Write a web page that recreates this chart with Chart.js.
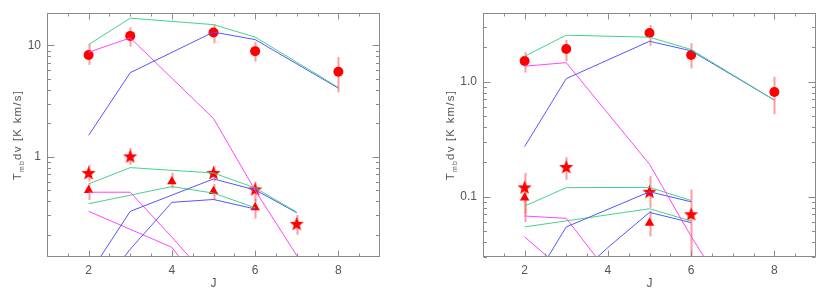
<!DOCTYPE html>
<html>
<head>
<meta charset="utf-8">
<script src="https://cdn.jsdelivr.net/npm/chart.js@4/dist/chart.umd.min.js"></script>
<style>
  body { margin: 0; background: #fff; }
  #wrap { position: relative; width: 831px; height: 295px; }
  canvas { position: absolute; top: 0; }
  #left { left: 0; }
  #right { left: 416px; }
</style>
</head>
<body>
<div id="wrap">
  <canvas id="left" width="415" height="295"></canvas>
  <canvas id="right" width="415" height="295"></canvas>
</div>
<script>
// ---- left panel data ----
const L_topJ = [2, 3, 5, 6, 8];
const L_topGreen = [10.2, 17.6, 15.4, 11.9, 4.2];
const L_topBlue = [1.56, 5.7, 13.2, 11.3, 4.14];
const L_topMagJ = [2, 3, 5, 6, 7, 8];
const L_topMag = [8.7, 11.7, 2.21, 0.5, 0.13, 0.03];

const L_starJ = [2, 3, 5, 6, 7];
const L_starGreen = [0.571, 0.8, 0.716, 0.526, 0.319];
const L_starBlue = [0.087, 0.324, 0.633, 0.505, 0.315];
const L_starMagJ = [2, 3, 4, 5];
const L_starMag = [0.481, 0.481, 0.19, 0.072];

const L_triGreenJ = [2, 4, 5, 6];
const L_triGreen = [0.379, 0.541, 0.472, 0.349];
const L_triBlueJ = [2, 3, 4, 5, 6];
const L_triBlue = [0.05, 0.148, 0.39, 0.414, 0.34];
const L_triMagJ = [2, 4, 5];
const L_triMag = [0.324, 0.154, 0.05];

const L_circJ = [2, 3, 5, 6, 8];
const L_circ = [8.2, 12.2, 13.1, 8.9, 5.8];
const L_circLo = [6.7, 9.8, 10.5, 7.2, 3.8];
const L_circHi = [10.3, 14.6, 15.5, 10.8, 7.9];
const L_obsStarJ = [2, 3, 5, 6, 7];
const L_obsStar = [0.71, 1.0, 0.71, 0.505, 0.248];
const L_obsStarLo = [0.6, 0.85, 0.6, 0.4, 0.2];
const L_obsStarHi = [0.85, 1.2, 0.83, 0.6, 0.3];
const L_obsTriJ = [2, 4, 5, 6];
const L_obsTri = [0.5, 0.6, 0.49, 0.35];
const L_obsTriLo = [0.41, 0.52, 0.41, 0.28];
const L_obsTriHi = [0.58, 0.72, 0.57, 0.42];

// ---- right panel data ----
const R_topJ = [2, 3, 5, 6, 8];
const R_topGreen = [1.66, 2.53, 2.43, 1.9, 0.69];
const R_topBlue = [0.272, 1.06, 2.24, 1.85, 0.69];
const R_topMagJ = [2, 3, 5, 6, 7];
const R_topMag = [1.36, 1.46, 0.191, 0.045, 0.012];

const R_starJ = [2, 3, 5, 6];
const R_starGreen = [0.0826, 0.1195, 0.12, 0.0924];
const R_starBlue = [0.0139, 0.0544, 0.11, 0.09];
const R_starMagJ = [2, 3, 4];
const R_starMag = [0.0677, 0.0646, 0.022];

const R_triGreenJ = [2, 5, 6];
const R_triGreen = [0.0544, 0.0783, 0.0613];
const R_triBlueJ = [3, 4, 5, 6];
const R_triBlue = [0.017, 0.036, 0.0728, 0.0593];
const R_triMagJ = [2, 3];
const R_triMag = [0.0446, 0.0217];

const R_circJ = [2, 3, 5, 6, 8];
const R_circ = [1.51, 1.92, 2.64, 1.7, 0.81];
const R_circLo = [1.2, 1.5, 2.05, 1.3, 0.52];
const R_circHi = [1.8, 2.3, 3.1, 2.15, 1.1];
const R_obsStarJ = [2, 3, 5, 6];
const R_obsStar = [0.119, 0.179, 0.109, 0.0695];
const R_obsStarLo = [0.06, 0.14, 0.08, 0.025];
const R_obsStarHi = [0.16, 0.22, 0.15, 0.115];
const R_obsTriJ = [2, 5];
const R_obsTri = [0.0975, 0.059];
const R_obsTriLo = [0.07, 0.045];
const R_obsTriHi = [0.12, 0.075];

const GREEN = 'rgb(70,210,140)';
const BLUE = 'rgb(85,85,255)';
const MAGENTA = 'rgb(255,70,255)';
const RED = 'rgb(255,0,0)';
const ERR = 'rgba(255,90,90,0.6)';
const FONT = '"Liberation Sans", Arial, sans-serif';

// filled five-point star used as point style
function makeStar(r) {
  const c = document.createElement('canvas');
  const s = Math.ceil(r * 2 + 2);
  c.width = s; c.height = s;
  const g = c.getContext('2d');
  g.fillStyle = RED;
  g.beginPath();
  for (let i = 0; i < 10; i++) {
    const rr = i % 2 ? r * 0.42 : r;
    const a = -Math.PI / 2 + i * Math.PI / 5;
    g.lineTo(s / 2 + rr * Math.cos(a), s / 2 + rr * Math.sin(a));
  }
  g.closePath();
  g.fill();
  return c;
}
const starImg = makeStar(7.5);

function pts(xs, ys) {
  return xs.map((x, i) => ({ x: x, y: ys[i] }));
}
function model(xs, ys, color) {
  return { data: pts(xs, ys), showLine: true, borderColor: color, borderWidth: 1,
           pointRadius: 0, tension: 0 };
}
function obs(xs, ys, style, r) {
  return { data: pts(xs, ys), showLine: false, pointStyle: style, pointRadius: r,
           backgroundColor: RED, borderColor: RED, borderWidth: 0 };
}

const frame = {
  id: 'frame',
  beforeDatasetsDraw(chart, args, o) {
    const ctx = chart.ctx, a = chart.chartArea;
    const xs = chart.scales.x, ys = chart.scales.y;
    ctx.save();
    ctx.beginPath();
    ctx.rect(a.left, a.top, a.right - a.left, a.bottom - a.top);
    ctx.clip();
    ctx.strokeStyle = ERR;
    ctx.lineWidth = 2;
    o.errors.forEach(e => {
      e.x.forEach((j, i) => {
        const px = Math.round(xs.getPixelForValue(j)) + 0.5;
        ctx.beginPath();
        ctx.moveTo(px, ys.getPixelForValue(e.lo[i]));
        ctx.lineTo(px, ys.getPixelForValue(e.hi[i]));
        ctx.stroke();
      });
    });
    ctx.restore();
  },
  afterDraw(chart, args, o) {
    const ctx = chart.ctx, a = chart.chartArea;
    const xs = chart.scales.x, ys = chart.scales.y;
    ctx.save();
    ctx.strokeStyle = '#8a8a8a';
    ctx.lineWidth = 1;
    const L = Math.round(a.left) + 0.5, R = Math.round(a.right) - 0.5;
    const T = Math.round(a.top) + 0.5, B = Math.round(a.bottom) - 0.5;
    ctx.strokeRect(L, T, R - L, B - T);
    ctx.beginPath();
    // x ticks every 0.5, longer at labelled values
    for (let j = 1.5; j < 9; j += 0.5) {
      const px = Math.round(xs.getPixelForValue(j)) + 0.5;
      const len = (j % 2 === 0) ? 6 : 3;
      ctx.moveTo(px, B); ctx.lineTo(px, B - len);
      ctx.moveTo(px, T); ctx.lineTo(px, T + len);
    }
    // y ticks: decades long, 2..9 short
    for (let d = -3; d <= 2; d++) {
      for (let m = 1; m <= 9; m++) {
        const v = m * Math.pow(10, d);
        if (v <= ys.min || v >= ys.max) continue;
        const py = Math.round(ys.getPixelForValue(v)) + 0.5;
        const len = m === 1 ? 7 : 3.5;
        ctx.moveTo(L, py); ctx.lineTo(L + len, py);
        ctx.moveTo(R, py); ctx.lineTo(R - len, py);
      }
    }
    ctx.stroke();

    // axis titles
    ctx.fillStyle = '#555';
    ctx.font = '12px ' + FONT;
    ctx.textAlign = 'center';
    ctx.textBaseline = 'middle';
    ctx.fillText('J', (a.left + a.right) / 2, 284);

    ctx.translate(o.titleX, (a.top + a.bottom) / 2);
    ctx.rotate(-Math.PI / 2);
    ctx.letterSpacing = '1.2px';
    ctx.textAlign = 'left';
    ctx.textBaseline = 'alphabetic';
    const big = '11.5px ' + FONT, small = '7px ' + FONT;
    ctx.font = big;
    const wT = ctx.measureText('T').width;
    const wR = ctx.measureText('dv [K km/s]').width;
    ctx.font = small;
    const wS = ctx.measureText('mb').width;
    let x0 = -(wT + wS + wR) / 2;
    ctx.font = big;
    ctx.fillText('T', x0, 4);
    ctx.font = small;
    ctx.fillText('mb', x0 + wT, 6.5);
    ctx.font = big;
    ctx.fillText('dv [K km/s]', x0 + wT + wS, 4);
    ctx.restore();
  }
};

function makeChart(id, datasets, yMin, yMax, yTicks, yFmt, yWidth, padRight, titleX, errors) {
  return new Chart(document.getElementById(id), {
    type: 'scatter',
    data: { datasets: datasets },
    plugins: [frame],
    options: {
      responsive: false,
      animation: false,
      devicePixelRatio: 1,
      layout: { padding: { top: 11, right: padRight, left: 0, bottom: 0 } },
      plugins: {
        legend: { display: false },
        tooltip: { enabled: false },
        frame: { errors: errors, titleX: titleX }
      },
      scales: {
        x: {
          type: 'linear', min: 1, max: 9,
          grid: { display: false, drawTicks: false },
          border: { display: false },
          afterBuildTicks: s => { s.ticks = [2, 4, 6, 8].map(v => ({ value: v })); },
          afterFit: s => { s.height = 38; },
          ticks: { color: '#555', font: { family: FONT, size: 12 }, padding: 6, maxRotation: 0 }
        },
        y: {
          type: 'logarithmic', min: yMin, max: yMax,
          grid: { display: false, drawTicks: false },
          border: { display: false },
          afterBuildTicks: s => { s.ticks = yTicks.map(v => ({ value: v })); },
          afterFit: s => { s.width = yWidth; },
          ticks: { color: '#555', font: { family: FONT, size: 12 }, padding: 6,
                   callback: v => yFmt(v) }
        }
      }
    }
  });
}

const leftSets = [
  model(L_topJ, L_topGreen, GREEN),
  model(L_topJ, L_topBlue, BLUE),
  model(L_topMagJ, L_topMag, MAGENTA),
  model(L_starJ, L_starGreen, GREEN),
  model(L_starJ, L_starBlue, BLUE),
  model(L_starMagJ, L_starMag, MAGENTA),
  model(L_triGreenJ, L_triGreen, GREEN),
  model(L_triBlueJ, L_triBlue, BLUE),
  model(L_triMagJ, L_triMag, MAGENTA),
  obs(L_circJ, L_circ, 'circle', 5),
  obs(L_obsStarJ, L_obsStar, starImg, 7.5),
  obs(L_obsTriJ, L_obsTri, 'triangle', 5.5)
];
const rightSets = [
  model(R_topJ, R_topGreen, GREEN),
  model(R_topJ, R_topBlue, BLUE),
  model(R_topMagJ, R_topMag, MAGENTA),
  model(R_starJ, R_starGreen, GREEN),
  model(R_starJ, R_starBlue, BLUE),
  model(R_starMagJ, R_starMag, MAGENTA),
  model(R_triGreenJ, R_triGreen, GREEN),
  model(R_triBlueJ, R_triBlue, BLUE),
  model(R_triMagJ, R_triMag, MAGENTA),
  obs(R_circJ, R_circ, 'circle', 5),
  obs(R_obsStarJ, R_obsStar, starImg, 7.5),
  obs(R_obsTriJ, R_obsTri, 'triangle', 5.5)
];

makeChart('left', leftSets, 0.126, 19.5, [1, 10], v => String(v), 47, 35, 17, [
  { x: L_circJ, lo: L_circLo, hi: L_circHi },
  { x: L_obsStarJ, lo: L_obsStarLo, hi: L_obsStarHi },
  { x: L_obsTriJ, lo: L_obsTriLo, hi: L_obsTriHi }
]);
makeChart('right', rightSets, 0.0298, 3.93, [0.1, 1], v => v.toFixed(1), 67, 15, 34, [
  { x: R_circJ, lo: R_circLo, hi: R_circHi },
  { x: R_obsStarJ, lo: R_obsStarLo, hi: R_obsStarHi },
  { x: R_obsTriJ, lo: R_obsTriLo, hi: R_obsTriHi }
]);
</script>
</body>
</html>
